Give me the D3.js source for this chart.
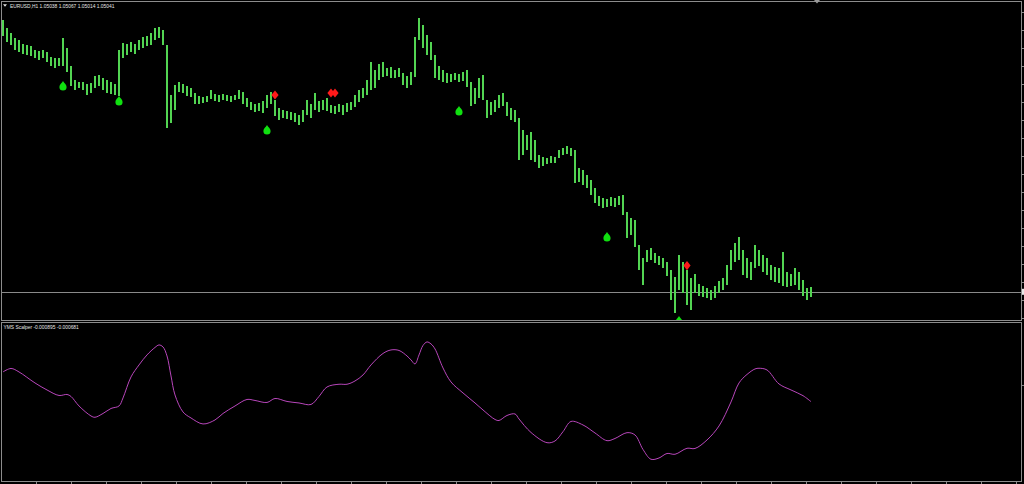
<!DOCTYPE html>
<html><head><meta charset="utf-8">
<script src="https://cdn.jsdelivr.net/npm/d3@7"></script>
<style>html,body{margin:0;padding:0;background:#000;overflow:hidden}svg{display:block}</style>
</head><body>
<svg id="c" width="1024" height="484"></svg>
<script>
// ---------- DATA ----------
const symbol = "EURUSD,H1";
const lastOHLC = [1.05038, 1.05067, 1.05014, 1.05041];

const priceHigh = [
1.06400,1.06360,1.06335,1.06310,1.06300,1.06280,1.06275,1.06270,1.06250,1.06245,
1.06250,1.06240,1.06215,1.06210,1.06210,1.06310,1.06260,1.06170,1.06100,1.06090,
1.06090,1.06080,1.06085,1.06120,1.06125,1.06110,1.06100,1.06090,1.06080,1.06250,
1.06285,1.06280,1.06290,1.06280,1.06300,1.06315,1.06320,1.06335,1.06360,1.06365,
1.06350,1.06275,1.06025,1.06075,1.06090,1.06080,1.06070,1.06060,1.06035,1.06020,
1.06015,1.06020,1.06050,1.06030,1.06025,1.06030,1.06025,1.06020,1.06025,1.06050,
1.06040,1.06010,1.05990,1.05980,1.05985,1.05995,1.06025,1.06040,1.06000,1.05960,
1.05950,1.05945,1.05940,1.05935,1.05925,1.05950,1.06000,1.05980,1.06035,1.05995,
1.06000,1.06010,1.05975,1.05970,1.05980,1.05975,1.05985,1.05990,1.06025,1.06050,
1.06060,1.06100,1.06190,1.06150,1.06180,1.06190,1.06160,1.06165,1.06150,1.06160,
1.06135,1.06120,1.06140,1.06315,1.06410,1.06375,1.06325,1.06290,1.06225,1.06170,
1.06150,1.06135,1.06130,1.06135,1.06130,1.06140,1.06150,1.06090,1.06060,1.06110,
1.06125,1.06000,1.05990,1.06000,1.06025,1.06035,1.05990,1.05960,1.05950,1.05910,
1.05850,1.05825,1.05840,1.05800,1.05725,1.05715,1.05710,1.05720,1.05715,1.05750,
1.05760,1.05770,1.05760,1.05750,1.05660,1.05650,1.05625,1.05600,1.05560,1.05520,
1.05510,1.05505,1.05515,1.05510,1.05520,1.05525,1.05440,1.05410,1.05400,1.05275,
1.05210,1.05250,1.05260,1.05235,1.05220,1.05210,1.05190,1.05150,1.05115,1.05225,
1.05190,1.05150,1.05110,1.05130,1.05080,1.05070,1.05060,1.05050,1.05070,1.05095,
1.05110,1.05175,1.05250,1.05285,1.05315,1.05250,1.05210,1.05190,1.05275,1.05250,
1.05225,1.05210,1.05175,1.05165,1.05160,1.05240,1.05140,1.05130,1.05160,1.05140,
1.05100,1.05060,1.05065];

const priceLow = [
1.06320,1.06290,1.06275,1.06250,1.06240,1.06230,1.06225,1.06220,1.06210,1.06200,
1.06210,1.06190,1.06170,1.06160,1.06170,1.06170,1.06140,1.06070,1.06050,1.06060,
1.06050,1.06025,1.06035,1.06060,1.06070,1.06050,1.06035,1.06030,1.06025,1.06020,
1.06210,1.06225,1.06240,1.06230,1.06250,1.06260,1.06270,1.06275,1.06300,1.06310,
1.06275,1.05860,1.05885,1.05950,1.06040,1.06035,1.06020,1.06015,1.05980,1.05980,
1.05985,1.05990,1.06005,1.05995,1.05990,1.06000,1.05995,1.05990,1.06000,1.06005,
1.05980,1.05965,1.05950,1.05940,1.05945,1.05935,1.05960,1.05980,1.05920,1.05900,
1.05910,1.05905,1.05900,1.05890,1.05875,1.05890,1.05925,1.05910,1.05950,1.05940,
1.05950,1.05945,1.05935,1.05930,1.05940,1.05925,1.05940,1.05950,1.05965,1.05990,
1.06010,1.06025,1.06050,1.06060,1.06100,1.06115,1.06120,1.06110,1.06110,1.06115,
1.06075,1.06060,1.06075,1.06115,1.06300,1.06260,1.06225,1.06200,1.06110,1.06100,
1.06090,1.06085,1.06090,1.06100,1.06090,1.06095,1.06065,1.05970,1.05980,1.06010,
1.06000,1.05910,1.05925,1.05940,1.05960,1.05970,1.05920,1.05900,1.05890,1.05700,
1.05725,1.05750,1.05700,1.05690,1.05660,1.05670,1.05680,1.05685,1.05685,1.05710,
1.05725,1.05730,1.05720,1.05585,1.05590,1.05575,1.05560,1.05525,1.05485,1.05470,
1.05460,1.05465,1.05470,1.05465,1.05475,1.05425,1.05310,1.05325,1.05265,1.05150,
1.05075,1.05190,1.05200,1.05185,1.05175,1.05160,1.05120,1.05000,1.04935,1.05050,
1.05035,1.04975,1.04950,1.05035,1.05020,1.05015,1.05010,1.05000,1.05010,1.05035,
1.05050,1.05075,1.05150,1.05190,1.05200,1.05125,1.05110,1.05100,1.05160,1.05170,
1.05140,1.05125,1.05100,1.05090,1.05085,1.05070,1.05065,1.05070,1.05075,1.05050,
1.05020,1.05000,1.05015];

const buyIdx = [15, 29, 66, 114, 151, 169];
const buyPrice = [1.06070, 1.05995, 1.05850, 1.05945, 1.05315, 1.04895];
const sellIdx = [68, 82, 83, 171];
const sellPrice = [1.06025, 1.06035, 1.06035, 1.05172];

const indName = "YMS Scalper";
const indLabelValues = [-0.000895, -0.000681];
const indIdx = [0,2,4,8,11,14,16,17,19,22,23,25,27,29,30,32,34,36,38,39,40,41,42,43,45,47,50,53,55,58,61,63,66,68,71,74,77,79,81,84,86,88,90,92,95,97,99,101,102,103,104,105,106,107,108,110,112,115,118,120,123,124,126,128,129,132,136,138,140,142,145,148,151,153,156,158,160,162,164,166,168,171,173,176,179,182,184,186,188,189,191,194,197,200,202];
const indVal = [0.000697,0.000884,0.000697,0.000107,-0.000268,-0.000563,-0.000509,-0.000616,-0.001126,-0.001662,-0.001731,-0.001528,-0.001260,-0.001126,-0.000697,0.000429,0.001072,0.001608,0.002010,0.002144,0.002037,0.001554,0.000482,-0.000536,-0.001447,-0.001769,-0.002090,-0.001876,-0.001528,-0.001126,-0.000777,-0.000831,-0.000938,-0.000724,-0.000884,-0.000965,-0.001045,-0.000616,-0.000107,0.000038,0.000038,0.000214,0.000536,0.001072,0.001688,0.001876,0.001849,0.001554,0.001340,0.001126,0.001608,0.002117,0.002305,0.002198,0.001930,0.000911,0.000161,-0.000429,-0.000965,-0.001340,-0.001849,-0.001903,-0.001635,-0.001554,-0.001822,-0.002546,-0.003093,-0.003002,-0.002503,-0.001956,-0.002144,-0.002573,-0.002986,-0.002868,-0.002557,-0.002680,-0.003457,-0.003982,-0.003913,-0.003672,-0.003714,-0.003393,-0.003404,-0.002948,-0.002198,-0.000911,0.000107,0.000563,0.000858,0.000895,0.000804,0.000054,-0.000268,-0.000574,-0.000895];

const priceTicks = [1.0644,1.0635,1.0626,1.0617,1.0608,1.0599,1.0590,1.0581,1.0572,1.0563,1.0554,1.0545,1.0536,1.0527,1.0518,1.0509,1.0500,1.0491];
const indTicks = [0];
const timeTickIdx = [8.25,17,25.75,34.5,43.25,52,60.75,69.5,78.25,87,95.75,104.5,113.25,122,130.75,139.5,148.25,157,165.75,174.5,183.25,192,200.75,209.5,218.25,227,235.75,244.5,253.25];

// ---------- LAYOUT ----------
const svg = d3.select("#c");
const W = 1024;
const paneL = 1.5, paneR = 1021.5;
const mainTop = 1.5, mainBot = 320.5;
const indTop = 322.5, indBot = 481.5;

const x = d3.scaleLinear().domain([0, 202]).range([3, 811]);
const y = d3.scaleLinear().domain([1.0490, 1.0650]).range([320, 0]);
const yi = d3.scaleLinear().domain([-0.00520, 0.00332]).range([482, 323]);

svg.append("rect").attr("width", W).attr("height", 484).attr("fill", "#000");

const defs = svg.append("defs");
defs.append("clipPath").attr("id", "cm").append("rect")
  .attr("x", 2).attr("y", 2).attr("width", 1019).attr("height", 318);
defs.append("clipPath").attr("id", "ci").append("rect")
  .attr("x", 2).attr("y", 323).attr("width", 1019).attr("height", 158);

// main pane
const gm = svg.append("g").attr("clip-path", "url(#cm)");

// bid line
gm.append("line").attr("x1", 2).attr("x2", paneR)
  .attr("y1", Math.round(y(lastOHLC[3])) + 0.5).attr("y2", Math.round(y(lastOHLC[3])) + 0.5)
  .attr("stroke", "#8a8a8a").attr("stroke-width", 1);

gm.append("g").selectAll("rect").data(priceHigh).join("rect")
  .attr("x", (d, i) => x(i) - 1)
  .attr("width", 2)
  .attr("y", d => y(d))
  .attr("height", (d, i) => Math.max(1, y(priceLow[i]) - y(d)))
  .attr("fill", "#52d452")
  .attr("shape-rendering", "crispEdges");

const dropPath = "M0,-5 C1,-3 3.6,-1.4 3.6,1 A3.6,3.6 0 1 1 -3.6,1 C-3.6,-1.4 -1,-3 0,-5 Z";
gm.append("g").selectAll("path").data(buyIdx).join("path")
  .attr("d", dropPath)
  .attr("transform", (d, i) => `translate(${x(d)},${y(buyPrice[i])})`)
  .attr("fill", "#10e010");

const diamond = "M0,-4.6 L3.6,0 L0,4.6 L-3.6,0 Z";
gm.append("g").selectAll("path").data(sellIdx).join("path")
  .attr("d", diamond)
  .attr("transform", (d, i) => `translate(${x(d)},${y(sellPrice[i])})`)
  .attr("fill", "#ff1a1a");

// indicator pane
const gi = svg.append("g").attr("clip-path", "url(#ci)");
const line = d3.line().x(d => x(d[0])).y(d => yi(d[1])).curve(d3.curveCatmullRom.alpha(0.5));
gi.append("path").datum(indIdx.map((d, i) => [d, indVal[i]]))
  .attr("d", line).attr("fill", "none").attr("stroke", "#b846bb").attr("stroke-width", 1);

// frames
const frame = "#8c8c8c";
svg.append("rect").attr("x", paneL).attr("y", mainTop).attr("width", paneR - paneL).attr("height", mainBot - mainTop)
  .attr("fill", "none").attr("stroke", frame);
svg.append("rect").attr("x", paneL).attr("y", indTop).attr("width", paneR - paneL).attr("height", indBot - indTop)
  .attr("fill", "none").attr("stroke", frame);

// axes: tick marks only (their labels lie outside the visible window in the reference)
const axR = d3.axisRight(y).tickValues(priceTicks).tickSize(3).tickFormat(() => "");
const gR = svg.append("g").attr("transform", `translate(${paneR},0)`).call(axR);
const axRi = d3.axisRight(yi).tickValues(indTicks).tickSize(3).tickFormat(() => "");
const gRi = svg.append("g").attr("transform", `translate(${paneR},0)`).call(axRi);
const axB = d3.axisBottom(x).tickValues(timeTickIdx).tickSize(3).tickFormat(() => "");
const gB = svg.append("g").attr("transform", `translate(0,${indBot})`).call(axB);
[gR, gRi, gB].forEach(g => {
  g.select(".domain").remove();
  g.selectAll("line").attr("stroke", frame);
  g.selectAll("text").remove();
});

// bid marker on right scale
svg.append("rect").attr("x", 1022).attr("y", y(lastOHLC[3]) - 3).attr("width", 6).attr("height", 6).attr("fill", "#e8e8e8");

// chart shift marker
svg.append("path").attr("d", "M814,0 L820,0 L817,3.5 Z").attr("fill", "#9a9a9a");

// titles
svg.append("path").attr("d", "M3,4.2 L7,4.2 L5,6.8 Z").attr("fill", "#e0e0e0");
svg.append("text").attr("x", 10).attr("y", 7.6)
  .style("font", "4.9px 'Liberation Sans', Arial, sans-serif").attr("fill", "#e6e6e6")
  .text(symbol + "  " + lastOHLC.map(v => v.toFixed(5)).join(" "));
svg.append("text").attr("x", 3.5).attr("y", 328.6)
  .style("font", "4.9px 'Liberation Sans', Arial, sans-serif").attr("fill", "#e6e6e6")
  .text(indName + " " + indLabelValues.map(v => v.toFixed(6)).join(" "));
</script>
</body></html>
